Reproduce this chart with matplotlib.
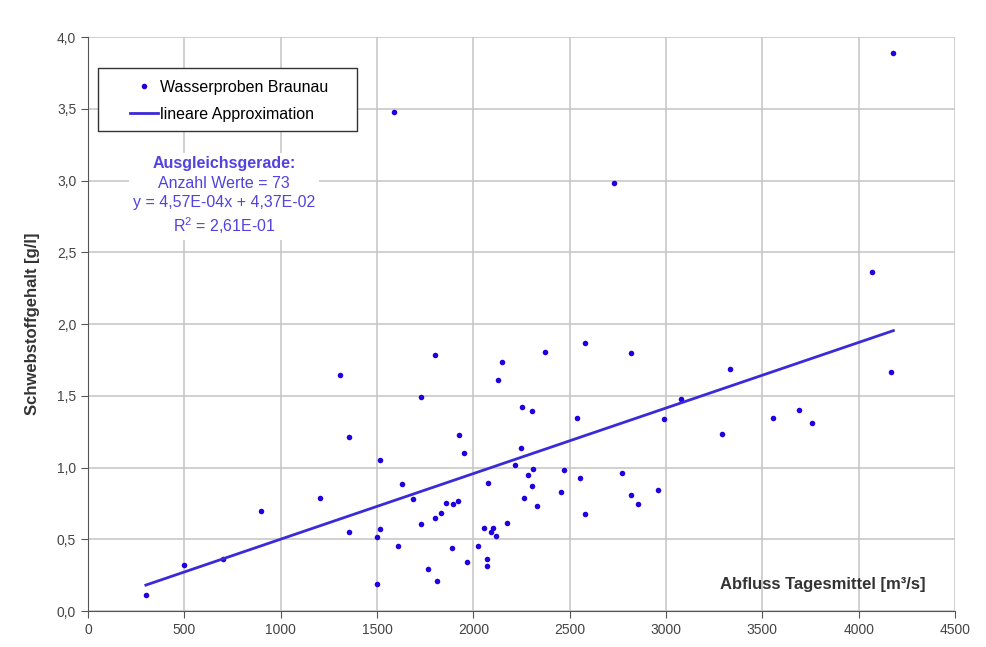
import matplotlib
matplotlib.use("Agg")
import numpy as np
import matplotlib.pyplot as plt
from matplotlib.patches import Rectangle
from matplotlib.ticker import MultipleLocator, FuncFormatter

# Tagesmittel Abfluss [m3/s] und Schwebstoffgehalt [g/l]
abfluss = [300, 500, 700, 900, 1204, 1307, 1354, 1356, 1498, 1498,
           1515, 1515, 1590, 1607, 1631, 1688, 1726, 1728, 1762, 1800,
           1802, 1809, 1830, 1856, 1887, 1895, 1920, 1925, 1951, 1965,
           2023, 2056, 2070, 2072, 2074, 2091, 2103, 2117, 2126, 2151,
           2176, 2214, 2248, 2255, 2262, 2281, 2303, 2305, 2310, 2331,
           2371, 2457, 2471, 2540, 2551, 2577, 2582, 2730, 2774, 2817,
           2817, 2852, 2957, 2990, 3077, 3288, 3331, 3557, 3692, 3756,
           4070, 4166, 4180]
schwebstoff = [0.11, 0.32, 0.36, 0.70, 0.79, 1.645, 0.548, 1.215, 0.518, 0.186,
               1.052, 0.569, 3.48, 0.453, 0.885, 0.78, 1.489, 0.606, 0.293, 0.65,
               1.784, 0.211, 0.685, 0.755, 0.437, 0.743, 0.767, 1.226, 1.099, 0.339,
               0.455, 0.581, 0.311, 0.36, 0.89, 0.548, 0.581, 0.525, 1.61, 1.738,
               0.611, 1.02, 1.134, 1.424, 0.79, 0.948, 0.873, 1.396, 0.99, 0.734,
               1.803, 0.827, 0.983, 1.345, 0.925, 1.865, 0.674, 2.98, 0.964, 1.796,
               0.81, 0.743, 0.841, 1.336, 1.477, 1.233, 1.689, 1.343, 1.401, 1.312,
               2.36, 1.668, 3.89]

# Ausgleichsgerade
steigung = 4.57e-4
achsenabschnitt = 4.37e-2
n_werte = 73
r2 = 2.61e-01

plt.rcParams["font.family"] = ["Liberation Sans", "DejaVu Sans"]
plt.rcParams["mathtext.fontset"] = "custom"
plt.rcParams["mathtext.rm"] = "Liberation Sans"

punkt_farbe = "#1f00e0"
linien_farbe = "#3b2ad8"
text_farbe = "#5242e0"

fig = plt.figure(figsize=(9.87, 6.47), dpi=100)
ax = fig.add_axes([0.0892, 0.0556, 0.8784, 0.8872])

ax.plot(abfluss, schwebstoff, "o", color=punkt_farbe, ms=4, mec="none",
        label="Wasserproben Braunau", zorder=3)
xl = np.array([min(abfluss), max(abfluss)])
ax.plot(xl, steigung * xl + achsenabschnitt, color=linien_farbe, lw=2,
        label="lineare Approximation", zorder=3)

ax.set_xlim(0, 4500)
ax.set_ylim(0, 4.0)
ax.xaxis.set_major_locator(MultipleLocator(500))
ax.yaxis.set_major_locator(MultipleLocator(0.5))
ax.yaxis.set_major_formatter(FuncFormatter(lambda v, p: f"{v:.1f}".replace(".", ",")))
ax.grid(True, color="#c4c4c4", lw=1.1)
ax.set_axisbelow(True)
for s in ("top", "right"):
    ax.spines[s].set_visible(False)
for s in ("left", "bottom"):
    ax.spines[s].set_color("#555555")
ax.tick_params(direction="out", length=5, color="#555555",
               labelcolor="#444444", labelsize=10)

ax.set_ylabel("Schwebstoffgehalt [g/l]", fontsize=12, fontweight="bold",
              color="#333333", labelpad=12)
ax.text(0.9654, 0.047, "Abfluss Tagesmittel [m³/s]", transform=ax.transAxes,
        ha="right", va="center", fontsize=12, fontweight="bold",
        color="#333333")

# Legendenrahmen separat, damit links und rechts mehr Platz bleibt
ax.add_patch(Rectangle((0.0115, 0.836), 0.2988, 0.110, transform=ax.transAxes,
                       facecolor="white", edgecolor="#333333", lw=1, zorder=4))
leg = ax.legend(loc="center left", bbox_to_anchor=(0.048, 0.889), fontsize=11.5,
                frameon=False, handlelength=1.8, handletextpad=0.1,
                borderpad=0, borderaxespad=0, labelspacing=0.75)
leg.set_zorder(5)

ax.text(0.157, 0.780, "Ausgleichsgerade:", transform=ax.transAxes,
        ha="center", va="center", fontsize=11.5, fontweight="bold",
        color=text_farbe, bbox=dict(facecolor="white", edgecolor="none", pad=2),
        zorder=4)
block = (f"Anzahl Werte = {n_werte}\n"
         f"y = {steigung:.2E}x + {achsenabschnitt:.2E}\n"
         f"R$^2$ = {r2:.2E}").replace(".", ",")
ax.text(0.157, 0.757, block, transform=ax.transAxes, ha="center", va="top",
        fontsize=11.5, color=text_farbe, linespacing=1.3,
        bbox=dict(facecolor="white", edgecolor="none", pad=3), zorder=4)

fig.savefig("out.png", dpi=100)
